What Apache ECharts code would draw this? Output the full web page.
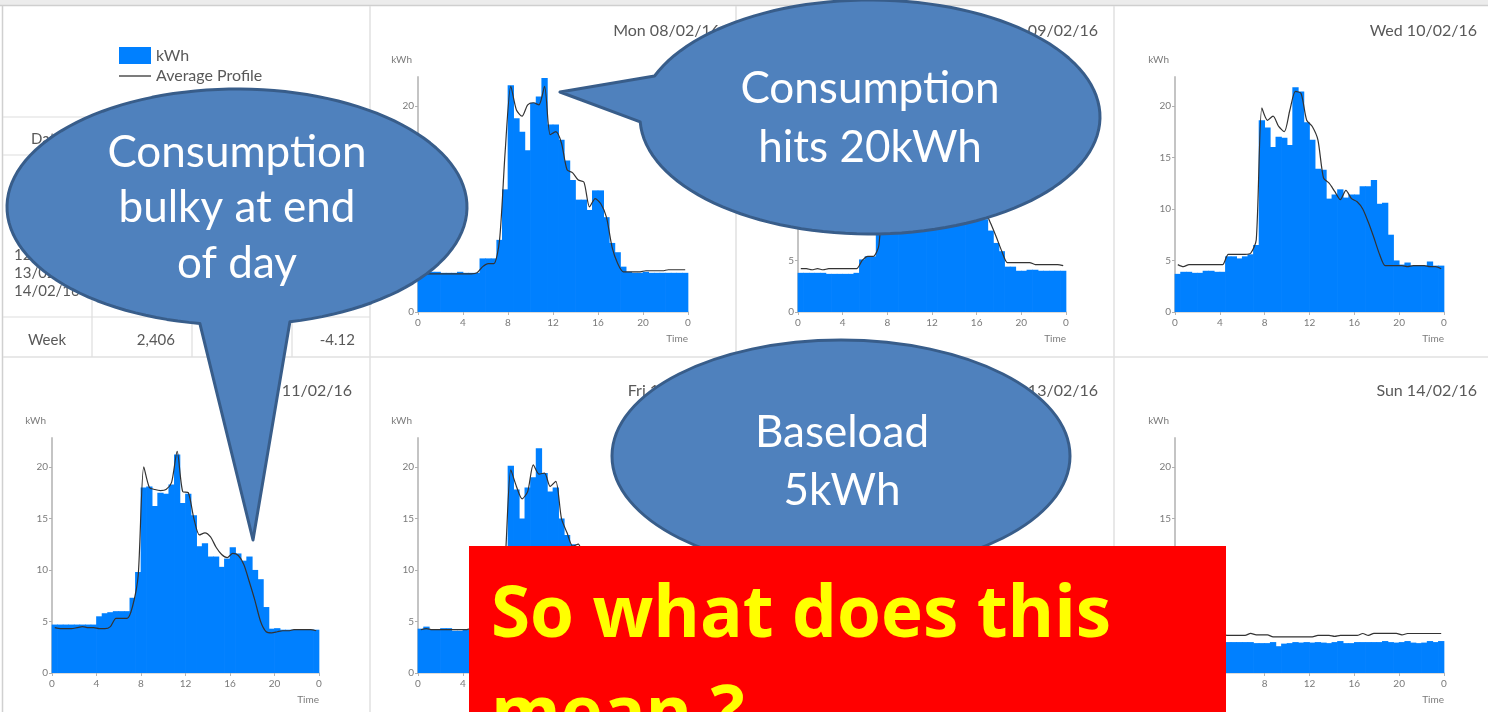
<!DOCTYPE html>
<html><head><meta charset="utf-8">
<script src="https://cdn.jsdelivr.net/npm/echarts@6/dist/echarts.min.js"></script>
<style>html,body{margin:0;padding:0;background:#fff}#c{width:1488px;height:712px}</style>
</head><body><div id="c"></div>
<script>
// ---------- DATA ----------
const slotTimes = ['00:00','00:30','01:00','01:30','02:00','02:30','03:00','03:30','04:00','04:30','05:00','05:30',
  '06:00','06:30','07:00','07:30','08:00','08:30','09:00','09:30','10:00','10:30','11:00','11:30',
  '12:00','12:30','13:00','13:30','14:00','14:30','15:00','15:30','16:00','16:30','17:00','17:30',
  '18:00','18:30','19:00','19:30','20:00','20:30','21:00','21:30','22:00','22:30','23:00','23:30'];
const xTickLabels = ['0','4','8','12','16','20','0'];
const yTicks = [0,5,10,15,20];
const dayTitles = ['Mon 08/02/16','Tue 09/02/16','Wed 10/02/16','Thu 11/02/16','Fri 12/02/16','Sat 13/02/16','Sun 14/02/16'];

const monKwh = [3.8,3.8,3.9,3.9,3.8,3.8,3.8,3.9,3.8,3.8,3.8,5.2,5.2,5.2,7.0,11.9,22.0,18.8,17.5,15.7,20.3,20.9,22.7,18.2,18.2,16.7,14.7,12.8,10.9,10.9,9.9,11.8,11.8,9.2,6.7,5.8,4.4,3.9,3.8,3.8,3.9,3.8,3.8,3.8,3.8,3.8,3.8,3.8];
const monAvg = [3.7,3.7,3.7,3.7,3.7,3.7,3.7,3.7,3.7,3.7,3.8,4.4,4.7,4.7,7.0,15.6,21.9,19.6,19.0,20.1,20.3,20.1,21.9,17.2,17.5,16.4,13.8,13.5,12.8,12.6,10.2,11.0,10.5,9.2,6.3,4.7,3.9,3.9,3.9,3.9,4.0,4.0,4.0,4.0,4.1,4.1,4.1,4.1];
const tueKwh = [3.8,3.8,3.8,3.8,3.8,3.7,3.7,3.7,3.7,3.7,3.8,5.1,5.4,5.4,9.5,17.5,19.0,17.0,16.5,18.0,19.5,20.5,18.5,17.0,15.5,14.0,12.5,12.0,11.5,12.0,11.0,10.5,10.0,9.0,7.9,6.7,5.9,4.4,4.4,4.0,4.0,4.1,4.1,4.0,4.0,4.0,4.0,4.0];
const tueAvg = [4.2,4.2,4.1,4.2,4.1,4.2,4.2,4.2,4.2,4.2,4.2,5.0,5.4,5.4,6.5,15.0,20.5,19.0,18.5,19.0,19.5,20.5,21.0,18.5,17.5,16.0,14.0,13.0,12.5,12.0,11.0,11.0,10.5,9.8,8.6,7.3,5.9,4.8,4.8,4.8,4.8,4.8,4.6,4.6,4.6,4.6,4.6,4.5];
const wedKwh = [3.7,3.9,3.9,3.8,3.8,4.0,4.0,3.9,3.9,5.4,5.4,5.2,5.4,5.6,6.5,18.6,17.9,16.0,17.0,16.9,16.2,21.8,21.4,18.4,16.7,13.9,13.8,11.0,11.4,11.9,11.1,11.4,11.4,12.2,12.2,12.8,10.5,10.6,7.5,5.0,4.6,4.8,4.5,4.5,4.5,4.9,4.5,4.5];
const wedAvg = [4.6,4.4,4.6,4.6,4.6,4.6,4.6,4.6,4.6,5.6,5.6,5.6,5.6,5.7,7.0,19.8,18.6,19.0,18.0,17.5,19.6,21.4,21.2,18.6,18.0,16.7,13.0,12.5,11.7,10.9,11.8,11.0,10.7,10.0,8.7,7.2,5.6,4.5,4.5,4.5,4.5,4.4,4.5,4.5,4.5,4.4,4.4,4.2];
const thuKwh = [4.7,4.7,4.7,4.7,4.7,4.7,4.7,4.7,5.5,5.8,5.9,6.0,6.0,6.0,7.3,9.8,18.0,18.1,16.2,17.5,17.4,18.3,21.2,16.5,17.4,15.3,12.3,12.6,11.3,11.3,10.3,11.1,12.2,11.6,10.9,11.3,10.0,9.1,6.4,4.3,4.35,4.2,4.2,4.2,4.2,4.2,4.2,4.2];
const thuAvg = [4.4,4.3,4.3,4.3,4.4,4.5,4.4,4.4,4.3,4.3,4.5,5.3,5.3,5.3,6.5,9.5,20.0,18.0,17.8,17.7,17.8,18.5,21.5,17.6,17.5,15.0,13.4,13.6,13.2,12.2,11.5,11.2,11.6,11.4,10.5,8.8,7.0,5.0,4.0,3.9,4.0,4.1,4.1,4.2,4.2,4.2,4.2,4.1];
const friKwh = [4.3,4.5,4.2,4.2,4.35,4.35,4.1,4.1,4.2,4.2,4.3,5.3,5.3,5.3,6.5,10.5,20.1,17.8,15.0,18.0,19.0,21.8,19.4,17.6,18.0,15.0,13.4,12.5,12.0,11.5,11.0,11.5,10.5,9.0,7.0,5.5,4.5,4.3,4.3,4.3,4.3,4.3,4.3,4.3,4.3,4.3,4.3,4.3];
const friAvg = [4.2,4.3,4.2,4.2,4.2,4.2,4.2,4.2,4.2,4.3,4.3,5.2,5.2,5.2,6.5,11.0,19.7,18.1,16.9,17.6,20.2,19.3,19.4,18.1,18.6,15.0,13.6,12.3,12.5,11.5,11.5,11.0,10.0,8.5,6.5,5.0,4.4,4.3,4.3,4.3,4.3,4.3,4.3,4.3,4.3,4.3,4.3,4.3];
const satKwh = [3.2,3.1,3.2,3.2,3.1,3.2,3.3,3.2,3.2,3.1,3.2,3.2,3.3,3.2,3.1,3.2,3.2,3.3,3.2,3.1,3.2,3.2,3.1,3.2,3.2,3.3,3.2,3.2,3.1,3.2,3.2,3.3,3.2,3.2,3.1,3.2,3.2,3.2,3.3,3.2,3.2,3.1,3.2,3.2,3.2,3.3,3.2,3.2];
const satAvg = [3.8,3.8,3.8,3.8,3.8,3.8,3.8,3.8,3.8,3.8,3.7,3.7,3.7,3.7,3.7,3.7,3.6,3.6,3.6,3.6,3.6,3.6,3.6,3.6,3.7,3.7,3.7,3.7,3.7,3.7,3.7,3.7,3.8,3.8,3.8,3.8,3.8,3.8,3.8,3.8,3.8,3.8,3.8,3.8,3.8,3.8,3.8,3.8];
const sunKwh = [3.0,2.9,3.0,3.1,3.0,2.9,3.0,3.0,3.0,3.0,3.0,3.0,3.0,3.0,2.9,2.9,2.9,3.0,2.6,2.85,2.9,3.0,2.95,3.0,2.95,3.0,2.95,2.9,3.0,3.1,2.9,2.9,3.0,3.0,3.0,3.0,3.0,3.1,3.0,2.95,3.0,3.1,2.95,2.9,2.95,3.1,3.0,3.1];
const sunAvg = [3.7,3.7,3.7,3.7,3.7,3.7,3.7,3.7,3.7,3.65,3.65,3.65,3.65,3.85,3.7,3.7,3.7,3.5,3.5,3.5,3.5,3.5,3.5,3.5,3.5,3.65,3.65,3.65,3.55,3.65,3.65,3.65,3.65,3.83,3.65,3.85,3.85,3.85,3.85,3.85,3.7,3.83,3.83,3.83,3.83,3.83,3.83,3.83];

const legendNames = ['kWh','Average Profile'];
const tableDates = ['08/02/16','09/02/16','10/02/16','11/02/16','12/02/16','13/02/16','14/02/16'];
const tableHeader = 'Date';
const weekRow = ['Week','2,406','-4.12'];
const calloutTexts = ['Consumption\nbulky at end\nof day','Consumption\nhits 20kWh','Baseload\n5kWh'];
const bannerText = 'So what does this\nmean ?';

// ---------- LAYOUT ----------
const dayKwh = [monKwh,tueKwh,wedKwh,thuKwh,friKwh,satKwh,sunKwh];
const dayAvg = [monAvg,tueAvg,wedAvg,thuAvg,friAvg,satAvg,sunAvg];
const panelCell = [[0,1],[0,2],[0,3],[1,0],[1,1],[1,2],[1,3]];
const plotTop = [77,438], plotH = 235;
const colLeft = [52,418,798,1175], colWidth = [267,270,268,269];
const titleRight = [352,720,1098,1477], titleY = [31,391];
const FONT = 'Lato';
const slotCenter = slotTimes.map(t => { const p = t.split(':').map(Number); return p[0] + p[1]/60 + 0.25; });

const grids=[], xAxes=[], yAxes=[], series=[], graphics=[];
panelCell.forEach(([r,c],i)=>{
  grids.push({left:colLeft[c], top:plotTop[r], width:colWidth[c], height:plotH});
  xAxes.push({type:'value', gridIndex:i, min:0, max:24, interval:4,
    axisLine:{lineStyle:{color:'#cfcfcf',width:1.5}},
    axisTick:{show:true,length:3,lineStyle:{color:'#b5b5b5'}},
    splitLine:{show:false},
    axisLabel:{formatter:v=>xTickLabels[Math.round(v/4)], fontSize:10, color:'#7a7a7a', fontFamily:FONT, margin:6},
    name:'Time', nameLocation:'end', nameGap:0,
    nameTextStyle:{align:'right', verticalAlign:'top', padding:[22,0,0,0], fontSize:10, color:'#7a7a7a', fontFamily:FONT}});
  yAxes.push({type:'value', gridIndex:i, min:0, max:22.8,
    axisLine:{show:true,lineStyle:{color:'#c4c4c4',width:2}},
    axisTick:{show:true,length:3,customValues:yTicks,lineStyle:{color:'#b0b0b0'}},
    axisLabel:{customValues:yTicks, fontSize:10, color:'#7a7a7a', fontFamily:FONT, margin:4},
    splitLine:{show:false},
    name:'kWh', nameLocation:'end', nameGap:12,
    nameTextStyle:{align:'right', fontSize:10, color:'#7a7a7a', fontFamily:FONT, padding:[0,6,0,0]}});
  series.push({type:'bar', name:legendNames[0], xAxisIndex:i, yAxisIndex:i,
    data:dayKwh[i].map((v,j)=>[slotCenter[j],v]), barWidth: colWidth[c]/slotTimes.length + 0.7,
    itemStyle:{color:'#0080ff'}, silent:true});
  series.push({type:'line', name:legendNames[1], xAxisIndex:i, yAxisIndex:i,
    data:dayAvg[i].map((v,j)=>[slotCenter[j],v]), symbol:'none', showSymbol:false, smooth:0.25,
    lineStyle:{color:'#333',width:1.2}, itemStyle:{color:'#333'}, z:3, silent:true});
  graphics.push({type:'text', x:titleRight[c], y:titleY[r], z:5,
    style:{text:dayTitles[i], textAlign:'right', textVerticalAlign:'middle', font:'16px '+FONT, fill:'#595959'}});
});

// frame
const lineEl=(x1,y1,x2,y2,color,w)=>({type:'line', z:0, shape:{x1,y1,x2,y2}, style:{stroke:color,lineWidth:w||1}});
graphics.push({type:'rect', z:0, shape:{x:0,y:0,width:1488,height:5}, style:{fill:'#ececec'}});
graphics.push(lineEl(0,5.5,1488,5.5,'#cfcfcf',1.5));
graphics.push(lineEl(2.5,5,2.5,712,'#d0d0d0',1.5));
[370,736,1114].forEach(x=>graphics.push(lineEl(x,6,x,712,'#e0e0e0',1.5)));
graphics.push(lineEl(3,357,1488,357,'#e0e0e0',1.5));
// table
[117,155,317].forEach(y=>graphics.push(lineEl(3,y,370,y,'#dedede',1.2)));
[92,192,292].forEach(x=>graphics.push(lineEl(x,117,x,357,'#dedede',1.2)));
graphics.push({type:'text', x:47, y:139, z:1, style:{text:tableHeader, textAlign:'center', textVerticalAlign:'middle', font:'15px '+FONT, fill:'#595959'}});
tableDates.forEach((d,k)=>graphics.push({type:'text', x:14, y:183+18*k, z:1, style:{text:d, textAlign:'left', textVerticalAlign:'middle', font:'15px '+FONT, fill:'#595959'}}));
graphics.push({type:'text', x:47, y:340, z:1, style:{text:weekRow[0], textAlign:'center', textVerticalAlign:'middle', font:'15px '+FONT, fill:'#595959'}});
graphics.push({type:'text', x:175, y:340, z:1, style:{text:weekRow[1], textAlign:'right', textVerticalAlign:'middle', font:'15px '+FONT, fill:'#595959'}});
graphics.push({type:'text', x:355, y:340, z:1, style:{text:weekRow[2], textAlign:'right', textVerticalAlign:'middle', font:'15px '+FONT, fill:'#595959'}});

// callouts
function calloutPts(cx,cy,rx,ry,aStart,aEnd,tip){
  const pts=[]; const n=120;
  for(let k=0;k<=n;k++){ const a=(aStart+(aEnd-aStart)*k/n)*Math.PI/180; pts.push([cx+rx*Math.cos(a), cy+ry*Math.sin(a)]); }
  pts.push(tip); return pts;
}
const calloutStyle={fill:'#4f81bd', stroke:'#385d8a', lineWidth:3, lineJoin:'round'};
graphics.push({type:'polygon', z:100, shape:{points:calloutPts(237,207,230,118,99.3,436.7,[253,540])}, style:calloutStyle});
graphics.push({type:'polygon', z:100, shape:{points:calloutPts(870,117,230,117,200.5,537.6,[560,92])}, style:calloutStyle});
graphics.push({type:'ellipse', z:100, shape:{cx:841,cy:456,rx:229,ry:116}, style:calloutStyle});
const cText=(t,x,y,lh)=>({type:'text', x, y, z:101, style:{text:t, textAlign:'center', textVerticalAlign:'middle', font:'44px '+FONT, fill:'#ffffff', lineHeight:lh}});
graphics.push(cText(calloutTexts[0],237,208,55.5));
graphics.push(cText(calloutTexts[1],870,118.5,59));
graphics.push(cText(calloutTexts[2],842,462,58));
// banner
graphics.push({type:'rect', z:200, shape:{x:469,y:546,width:757,height:180}, style:{fill:'#ff0000'}});
graphics.push({type:'text', x:491, y:667, z:201, style:{text:bannerText, textAlign:'left', textVerticalAlign:'middle', font:'bold 71px "Open Sans"', fill:'#ffff00', lineHeight:100}});

const chart = echarts.init(document.getElementById('c'), null, {renderer:'canvas'});
chart.setOption({
  animation:false,
  backgroundColor:'#ffffff',
  legend:{data:[{name:legendNames[0], icon:'rect'}, {name:legendNames[1], icon:'path://M0,0 L40,0 L40,1.6 L0,1.6 Z'}],
    orient:'vertical', left:114, top:42, itemWidth:32, itemHeight:17, itemGap:4, selectedMode:false,
    textStyle:{fontSize:16, color:'#595959', fontFamily:FONT}},
  grid:grids, xAxis:xAxes, yAxis:yAxes, series:series, graphic:{elements:graphics}
});
</script></body></html>
